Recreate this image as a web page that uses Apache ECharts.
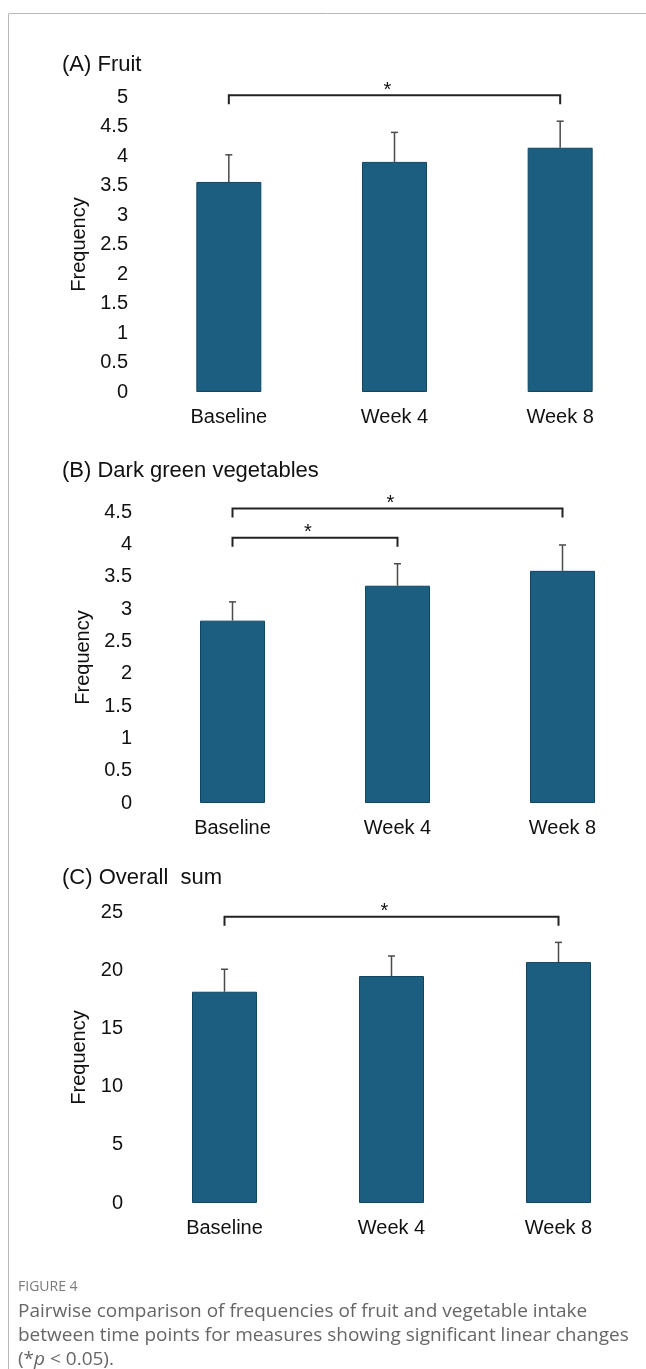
<!DOCTYPE html>
<html>
<head>
<meta charset="utf-8">
<script src="https://cdn.jsdelivr.net/npm/echarts@6/dist/echarts.min.js"></script>
<style>
html,body{margin:0;padding:0;background:#fff;}
#chart{width:646px;height:1369px;}
</style>
</head>
<body>
<div id="chart"></div>
<script>
// ---------- data ----------
const categories = ['Baseline', 'Week 4', 'Week 8'];

const fruitMean = [3.56, 3.90, 4.14];
const fruitErr  = [0.46, 0.50, 0.45];
const fruitTicks = [0, 5, 0.5];            // min, max, interval
const fruitBrackets = [[0, 2, 5.03]];      // from category, to category, level

const vegMean = [2.82, 3.36, 3.59];
const vegErr  = [0.29, 0.34, 0.40];
const vegTicks = [0, 4.5, 0.5];
const vegBrackets = [[0, 2, 4.555], [0, 1, 4.10]];

const sumMean = [18.15, 19.50, 20.70];
const sumErr  = [1.93, 1.72, 1.69];
const sumTicks = [0, 25, 5];
const sumBrackets = [[0, 2, 24.6]];

const panelTitles = ['(A) Fruit', '(B) Dark green vegetables', '(C) Overall  sum'];
const yName = 'Frequency';
const captionHead = 'FIGURE 4';
const captionLines = [
  'Pairwise comparison of frequencies of fruit and vegetable intake',
  'between time points for measures showing significant linear changes'
];

// ---------- styles ----------
const FONT = '"Liberation Sans", Arial, sans-serif';
const CFONT = '"Open Sans", sans-serif';
const BAR = '#1b5e80';
const BAR_BORDER = '#0e4663';
const grids = [
  {left: 146, right: 3, top: 97,  height: 295},
  {left: 150, right: 1, top: 512, height: 291},
  {left: 141, right: 4, top: 912, height: 291}
];
const panels = [
  {mean: fruitMean, err: fruitErr, ticks: fruitTicks, br: fruitBrackets, nameGap: 52},
  {mean: vegMean,   err: vegErr,   ticks: vegTicks,   br: vegBrackets,   nameGap: 57},
  {mean: sumMean,   err: sumErr,   ticks: sumTicks,   br: sumBrackets,   nameGap: 49}
];
const titleTops = [54, 460, 867];

function errRender(params, api) {
  const x = api.value(0), m = api.value(1), e = api.value(2);
  const b = api.coord([x, m]);
  const t = api.coord([x, m + e]);
  const w = 3.5;
  const st = {stroke: '#4a4a4a', lineWidth: 1.5};
  return {type: 'group', children: [
    {type: 'line', shape: {x1: b[0], y1: b[1], x2: t[0], y2: t[1]}, style: st},
    {type: 'line', shape: {x1: t[0] - w, y1: t[1], x2: t[0] + w, y2: t[1]}, style: st}
  ]};
}
function brRender(params, api) {
  const a = api.coord([api.value(0), api.value(2)]);
  const c = api.coord([api.value(1), api.value(2)]);
  const drop = 9;
  return {type: 'group', children: [
    {type: 'polyline', shape: {points: [[a[0], a[1] + drop], [a[0], a[1]], [c[0], c[1]], [c[0], c[1] + drop]]},
     style: {stroke: '#222', lineWidth: 2, fill: null}},
    {type: 'text', style: {text: '*', x: (a[0] + c[0]) / 2 - 7, y: a[1] - 5, textAlign: 'center',
      textVerticalAlign: 'middle', font: '20px ' + FONT, fill: '#111'}}
  ]};
}

const option = {
  animation: false,
  backgroundColor: '#fff',
  title: panelTitles.map((t, i) => ({
    text: t, left: 62, top: titleTops[i], padding: 0,
    textStyle: {fontFamily: FONT, fontSize: 22, fontWeight: 'normal', color: '#111'}
  })),
  grid: grids,
  xAxis: panels.map((p, i) => ({
    type: 'category', gridIndex: i, data: categories,
    axisLine: {show: false}, axisTick: {show: false},
    axisLabel: {fontFamily: FONT, fontSize: 20, color: '#111', margin: 15}
  })),
  yAxis: panels.map((p, i) => ({
    type: 'value', gridIndex: i, min: p.ticks[0], max: p.ticks[1], interval: p.ticks[2],
    name: yName, nameLocation: 'middle', nameGap: p.nameGap,
    nameTextStyle: {fontFamily: FONT, fontSize: 20, color: '#111'},
    axisLine: {show: false}, axisTick: {show: false}, splitLine: {show: false},
    axisLabel: {fontFamily: FONT, fontSize: 20, color: '#111', margin: 18}
  })),
  series: [].concat(...panels.map((p, i) => [
    {type: 'bar', xAxisIndex: i, yAxisIndex: i, data: p.mean, barWidth: 65,
     itemStyle: {color: BAR, borderColor: BAR_BORDER, borderWidth: 1}},
    {type: 'custom', xAxisIndex: i, yAxisIndex: i, renderItem: errRender,
     encode: {x: 0, y: 1}, data: categories.map((c, k) => [k, p.mean[k], p.err[k]]), z: 3},
    {type: 'custom', xAxisIndex: i, yAxisIndex: i, renderItem: brRender, clip: false,
     encode: {x: [0, 1], y: 2}, data: p.br, z: 4}
  ])),
  graphic: [
    {type: 'line', shape: {x1: 9, y1: 13.5, x2: 646, y2: 13.5}, style: {stroke: '#b8b8b8', lineWidth: 1}},
    {type: 'line', shape: {x1: 8.5, y1: 13.5, x2: 8.5, y2: 1369}, style: {stroke: '#b8b8b8', lineWidth: 1}},
    {type: 'text', left: 18, top: 1280, style: {text: captionHead, font: '14px ' + CFONT, fill: '#7a7a7a'}},
    {type: 'text', left: 18, top: 1302, style: {text: captionLines[0], font: '19px ' + CFONT, fill: '#666'}},
    {type: 'text', left: 18, top: 1326, style: {text: captionLines[1], font: '19px ' + CFONT, fill: '#666'}},
    {type: 'text', left: 18, top: 1350, style: {
      text: '(*{i|p} < 0.05).', font: '19px ' + CFONT, fill: '#666',
      rich: {i: {fontStyle: 'italic', fontFamily: CFONT, fontSize: 19, fill: '#666'}}
    }}
  ]
};

const chart = echarts.init(document.getElementById('chart'), null, {renderer: 'canvas'});
chart.setOption(option);
</script>
</body>
</html>
